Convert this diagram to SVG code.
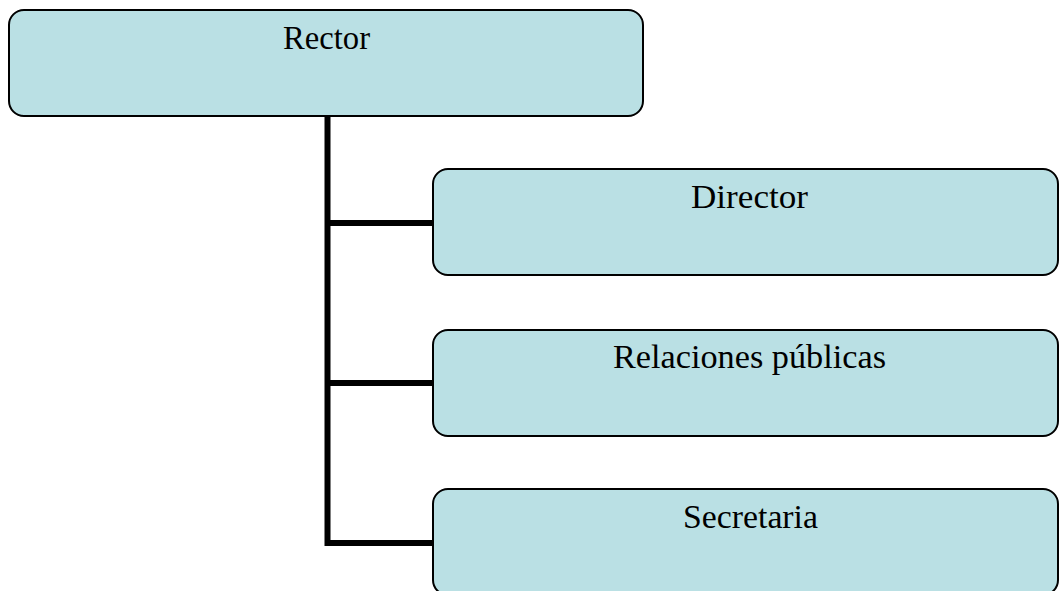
<svg xmlns="http://www.w3.org/2000/svg" width="1059" height="591" viewBox="0 0 1059 591">
<style>
.box{fill:#BAE0E4;stroke:#000;stroke-width:2}
.lbl{font-family:"Liberation Serif","Times New Roman",serif;font-size:33.5px;fill:#000;text-anchor:middle}
.conn{stroke:#000;stroke-width:6;fill:none}
</style>
<rect width="1059" height="591" fill="#fff"/>
<g id="connectors">
<path class="conn" d="M327.5,116 V543 M324.5,223 H434 M324.5,383 H434 M324.5,543 H434"/>
</g>
<g id="rector">
<rect class="box" x="9" y="10" width="634" height="106" rx="15"/>
<text class="lbl" x="326.5" y="49" textLength="87" lengthAdjust="spacingAndGlyphs">Rector</text>
</g>
<g id="director">
<rect class="box" x="433" y="169" width="625" height="106" rx="15"/>
<text class="lbl" x="749.5" y="208" textLength="117" lengthAdjust="spacingAndGlyphs">Director</text>
</g>
<g id="relaciones">
<rect class="box" x="433" y="330" width="625" height="106" rx="15"/>
<text class="lbl" x="749.5" y="368" textLength="273" lengthAdjust="spacingAndGlyphs">Relaciones públicas</text>
</g>
<g id="secretaria">
<rect class="box" x="433" y="489" width="625" height="106" rx="15"/>
<text class="lbl" x="750.5" y="528" textLength="135" lengthAdjust="spacingAndGlyphs">Secretaria</text>
</g>
</svg>
